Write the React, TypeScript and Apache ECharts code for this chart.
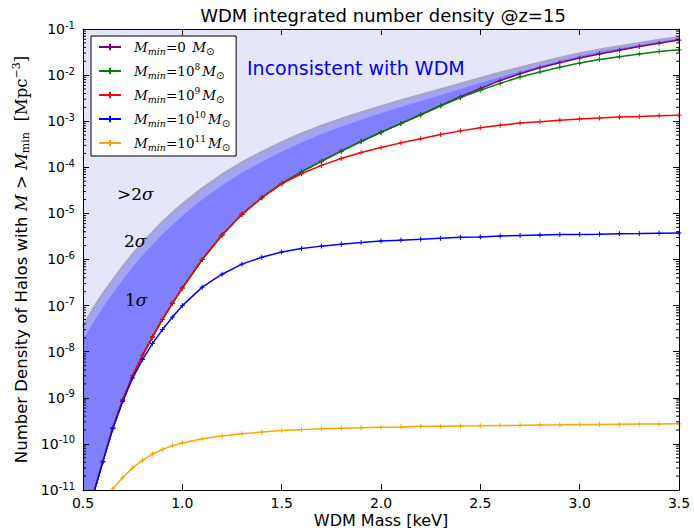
import React, { useEffect, useRef } from 'react';
import * as echarts from 'echarts';

// WDM particle mass [keV]
const wdmMass = [0.5, 0.55, 0.6, 0.65, 0.7, 0.75, 0.8, 0.85, 0.9, 0.95, 1.0, 1.1, 1.2, 1.3, 1.4, 1.5, 1.6, 1.7, 1.8, 1.9, 2.0, 2.1, 2.2, 2.3, 2.4, 2.5, 2.6, 2.7, 2.8, 2.9, 3.0, 3.1, 3.2, 3.3, 3.4, 3.5];

// Integrated number density [Mpc^-3] for each M_min
const nMmin0 = [1.26e-12, 7.59e-12, 4.17e-11, 2.24e-10, 8.91e-10, 3.02e-9, 8.32e-9, 2.09e-8, 5.01e-8, 1.12e-7, 2.4e-7, 1.0e-6, 3.39e-6, 9.55e-6, 2.19e-5, 4.47e-5, 7.94e-5, 1.35e-4, 2.24e-4, 3.63e-4, 5.75e-4, 8.91e-4, 1.38e-3, 2.19e-3, 3.39e-3, 5.13e-3, 7.59e-3, 1.07e-2, 1.45e-2, 1.86e-2, 2.34e-2, 2.88e-2, 3.47e-2, 4.17e-2, 4.9e-2, 5.75e-2];
const nMmin1e8 = [1.26e-12, 7.59e-12, 4.17e-11, 2.24e-10, 8.91e-10, 3.02e-9, 8.32e-9, 2.09e-8, 5.01e-8, 1.12e-7, 2.4e-7, 1.0e-6, 3.39e-6, 9.55e-6, 2.19e-5, 4.47e-5, 7.94e-5, 1.35e-4, 2.24e-4, 3.63e-4, 5.75e-4, 8.91e-4, 1.38e-3, 2.14e-3, 3.24e-3, 4.68e-3, 6.61e-3, 9.12e-3, 1.17e-2, 1.48e-2, 1.82e-2, 2.19e-2, 2.51e-2, 2.88e-2, 3.24e-2, 3.55e-2];
const nMmin1e9 = [1.26e-12, 7.59e-12, 4.17e-11, 2.24e-10, 8.91e-10, 3.02e-9, 8.32e-9, 2.09e-8, 5.01e-8, 1.12e-7, 2.4e-7, 1.0e-6, 3.39e-6, 9.55e-6, 2.19e-5, 4.37e-5, 7.24e-5, 1.1e-4, 1.55e-4, 2.09e-4, 2.69e-4, 3.39e-4, 4.17e-4, 5.13e-4, 6.17e-4, 7.24e-4, 8.13e-4, 9.12e-4, 9.77e-4, 1.05e-3, 1.12e-3, 1.17e-3, 1.23e-3, 1.26e-3, 1.32e-3, 1.35e-3];
const nMmin1e10 = [1.26e-12, 7.59e-12, 4.07e-11, 2.14e-10, 8.32e-10, 2.69e-9, 6.76e-9, 1.51e-8, 3.02e-8, 5.62e-8, 1.0e-7, 2.51e-7, 4.79e-7, 7.94e-7, 1.12e-6, 1.45e-6, 1.74e-6, 1.95e-6, 2.14e-6, 2.34e-6, 2.51e-6, 2.63e-6, 2.75e-6, 2.88e-6, 3.02e-6, 3.09e-6, 3.24e-6, 3.31e-6, 3.39e-6, 3.47e-6, 3.5e-6, 3.55e-6, 3.63e-6, 3.65e-6, 3.72e-6, 3.75e-6];
const nMmin1e11 = [null, null, 3.16e-12, 1.05e-11, 1.86e-11, 3.02e-11, 4.47e-11, 6.03e-11, 7.59e-11, 9.12e-11, 1.05e-10, 1.29e-10, 1.48e-10, 1.66e-10, 1.82e-10, 1.95e-10, 2.04e-10, 2.14e-10, 2.19e-10, 2.24e-10, 2.29e-10, 2.34e-10, 2.4e-10, 2.42e-10, 2.45e-10, 2.47e-10, 2.51e-10, 2.53e-10, 2.57e-10, 2.59e-10, 2.63e-10, 2.64e-10, 2.66e-10, 2.69e-10, 2.7e-10, 2.72e-10];

// Upper edges of the constraint bands
const upper2Sigma = [3.55e-8, 8.32e-8, 1.78e-7, 3.55e-7, 6.92e-7, 1.29e-6, 2.29e-6, 3.89e-6, 6.46e-6, 1.02e-5, 1.58e-5, 3.47e-5, 6.92e-5, 1.26e-4, 2.14e-4, 3.47e-4, 5.37e-4, 7.94e-4, 1.12e-3, 1.55e-3, 2.09e-3, 2.82e-3, 3.72e-3, 4.9e-3, 6.46e-3, 8.51e-3, 1.12e-2, 1.45e-2, 1.86e-2, 2.34e-2, 2.95e-2, 3.55e-2, 4.17e-2, 4.9e-2, 5.75e-2, 6.61e-2];
const upper1Sigma = [1.78e-8, 4.17e-8, 9.12e-8, 1.82e-7, 3.63e-7, 6.76e-7, 1.23e-6, 2.09e-6, 3.55e-6, 5.62e-6, 8.91e-6, 2.0e-5, 4.07e-5, 7.59e-5, 1.32e-4, 2.19e-4, 3.47e-4, 5.25e-4, 7.59e-4, 1.07e-3, 1.48e-3, 2.04e-3, 2.75e-3, 3.72e-3, 5.01e-3, 6.76e-3, 9.12e-3, 1.2e-2, 1.58e-2, 2.04e-2, 2.63e-2, 3.24e-2, 3.8e-2, 4.57e-2, 5.37e-2, 6.31e-2];

// Legend entries (exponent of M_min) and axis ticks
const legendExponents = ['0', '8', '9', '10', '11'];
const seriesNames = ['Mmin=0', 'Mmin=1e8', 'Mmin=1e9', 'Mmin=1e10', 'Mmin=1e11'];
const seriesColors = ['#800080', '#008000', '#ff0000', '#0000ff', '#ffa500'];
const yTickExponents = [-11, -10, -9, -8, -7, -6, -5, -4, -3, -2, -1];
const minorMantissas = [2, 3, 4, 5, 6, 7, 8, 9];

const X_MIN = 0.5;
const X_MAX = 3.5;
const Y_MIN = 1e-11;
const Y_MAX = 0.09999;

const PLUS = 'path://M0,5L10,5M5,0L5,10';
const SERIF = 'DejaVu Serif';
const SANS = 'DejaVu Sans';

const minorTickValues: number[] = [];
yTickExponents.slice(0, -1).forEach((e) => {
  minorMantissas.forEach((m) => minorTickValues.push(m * Math.pow(10, e)));
});

const toPairs = (vals: (number | null)[]) =>
  wdmMass.map((x, i) => [x, vals[i]]).filter((p) => p[1] != null);

const legendText = (i: number) => {
  const e = legendExponents[i];
  if (e === '0') return '{i0|M}{s|min}{r|=0 }{i|M}{o|⊙}';
  return '{i0|M}{s|min}{r|=10}{p|' + e + '}{i|M}{o|⊙}';
};

const sigmaRich = {
  r: { fontFamily: SERIF, fontSize: 17, fill: '#000' },
  g: { fontFamily: SERIF, fontStyle: 'italic', fontSize: 17, fill: '#000' },
};

export default function App() {
  const ref = useRef<HTMLDivElement>(null);
  useEffect(() => {
    if (!ref.current) return;
    const chart = echarts.init(ref.current, undefined, { renderer: 'svg' });
    const curveData = [nMmin0, nMmin1e8, nMmin1e9, nMmin1e10, nMmin1e11];
    const curves = curveData.map((vals, i) => ({
      type: 'line',
      name: seriesNames[i],
      data: toPairs(vals),
      z: 3,
      symbol: PLUS,
      symbolSize: 5,
      showSymbol: true,
      showAllSymbol: true,
      lineStyle: { color: seriesColors[i], width: 1.5 },
      itemStyle: { color: seriesColors[i], borderColor: seriesColors[i], borderWidth: 1 },
    }));

    const axisLineStyle = { show: true, onZero: false, lineStyle: { color: '#000', width: 1 } };
    const tickStyle = { show: true, inside: true, length: 6, lineStyle: { color: '#000' } };

    const option: any = {
      animation: false,
      backgroundColor: '#fff',
      title: {
        text: 'WDM integrated number density @z=15',
        left: 383,
        top: 6,
        padding: 0,
        textAlign: 'center',
        textStyle: { fontFamily: SANS, fontSize: 18, fontWeight: 'normal', color: '#000' },
      },
      grid: {
        left: 83,
        top: 29,
        width: 596,
        height: 461,
        show: true,
        backgroundColor: '#e6e6fa',
        borderWidth: 0,
        containLabel: false,
        outerBoundsMode: 'none',
      },
      legend: {
        data: seriesNames,
        orient: 'vertical',
        left: 91,
        top: 36,
        itemWidth: 22,
        itemHeight: 8,
        itemGap: 6,
        padding: [2, 6, 4, 7],
        borderColor: '#000',
        borderWidth: 1,
        backgroundColor: '#fff',
        selectedMode: false,
        z: 20,
        formatter: (name: string) => legendText(seriesNames.indexOf(name)),
        textStyle: {
          color: '#000',
          fontSize: 13.5,
          lineHeight: 18,
          rich: {
            i0: { fontFamily: SERIF, fontStyle: 'italic', fontSize: 13.5, lineHeight: 18, color: '#000', padding: [0, 0, 0, 8] },
            i: { fontFamily: SERIF, fontStyle: 'italic', fontSize: 13.5, lineHeight: 18, color: '#000', padding: [0, 0, 0, 2] },
            s: { fontFamily: SERIF, fontStyle: 'italic', fontSize: 9.5, lineHeight: 10, verticalAlign: 'bottom', color: '#000' },
            r: { fontFamily: SERIF, fontSize: 13.5, lineHeight: 18, color: '#000' },
            p: { fontFamily: SERIF, fontSize: 9, lineHeight: 9, verticalAlign: 'top', color: '#000' },
            o: { fontFamily: SANS, fontSize: 10, lineHeight: 10, verticalAlign: 'bottom', color: '#000' },
          },
        },
      },
      xAxis: [
        {
          type: 'value',
          min: X_MIN,
          max: X_MAX,
          interval: 0.5,
          position: 'bottom',
          z: 10,
          axisLine: axisLineStyle,
          axisTick: tickStyle,
          axisLabel: {
            formatter: (v: number) => v.toFixed(1),
            color: '#000',
            fontSize: 14,
            fontFamily: SANS,
            margin: 6,
          },
          splitLine: { show: false },
          name: 'WDM Mass [keV]',
          nameLocation: 'middle',
          nameGap: 21,
          nameMoveOverlap: false,
          nameTextStyle: { fontFamily: SANS, fontSize: 16, color: '#000', lineHeight: 18 },
        },
        {
          type: 'value',
          min: X_MIN,
          max: X_MAX,
          interval: 0.5,
          position: 'top',
          z: 10,
          axisLine: axisLineStyle,
          axisTick: tickStyle,
          axisLabel: { show: false },
          splitLine: { show: false },
        },
      ],
      yAxis: [
        {
          type: 'log',
          logBase: 10,
          min: Y_MIN,
          max: Y_MAX,
          splitNumber: 10,
          position: 'left',
          z: 10,
          axisLine: axisLineStyle,
          axisTick: tickStyle,
          axisLabel: {
            margin: 8,
            showMinLabel: true,
            showMaxLabel: true,
            hideOverlap: false,
            formatter: (v: number) => '{b|10}{e|' + String(Math.round(Math.log10(v))) + '}',
            rich: {
              b: { fontFamily: SANS, fontSize: 14, lineHeight: 18, color: '#000' },
              e: { fontFamily: SANS, fontSize: 10, lineHeight: 10, verticalAlign: 'top', color: '#000' },
            },
          },
          splitLine: { show: false },
          name:
            '{t|Number Density of Halos with }{m|M}{r| > }{m|M}{rs|min}{r|  [Mpc}{sp|−3}{r|]}',
          nameLocation: 'middle',
          nameGap: 52,
          nameMoveOverlap: false,
          nameTextStyle: {
            color: '#000',
            rich: {
              t: { fontFamily: SANS, fontSize: 16.5, lineHeight: 20, color: '#000' },
              m: { fontFamily: SERIF, fontStyle: 'italic', fontSize: 16.5, lineHeight: 20, color: '#000' },
              r: { fontFamily: SERIF, fontSize: 16.5, lineHeight: 20, color: '#000' },
              rs: { fontFamily: SERIF, fontSize: 11, lineHeight: 11, verticalAlign: 'bottom', color: '#000' },
              sp: { fontFamily: SERIF, fontSize: 11, lineHeight: 10, verticalAlign: 'top', color: '#000' },
            },
          },
        },
        {
          type: 'log',
          logBase: 10,
          min: Y_MIN,
          max: Y_MAX,
          splitNumber: 10,
          position: 'right',
          z: 10,
          axisLine: axisLineStyle,
          axisTick: tickStyle,
          axisLabel: { show: false },
          splitLine: { show: false },
        },
      ],
      series: [
        {
          type: 'line',
          name: 'band2sigma',
          data: toPairs(upper2Sigma),
          z: 1,
          showSymbol: false,
          silent: true,
          lineStyle: { color: '#a6a6c6', width: 2.5 },
          areaStyle: { color: '#a4a4f4', opacity: 1, origin: 'start' },
        },
        {
          type: 'line',
          name: 'band1sigma',
          data: toPairs(upper1Sigma),
          z: 1,
          showSymbol: false,
          silent: true,
          lineStyle: { width: 0, color: '#8080ff' },
          areaStyle: { color: '#8080ff', opacity: 1, origin: 'start' },
        },
        {
          type: 'line',
          name: 'belowTotal',
          data: toPairs(nMmin0),
          z: 1,
          showSymbol: false,
          silent: true,
          lineStyle: { width: 0, color: '#ffffff' },
          areaStyle: { color: '#ffffff', opacity: 1, origin: 'start' },
        },
        ...curves,
        {
          type: 'custom',
          name: 'minorTicks',
          silent: true,
          z: 11,
          clip: false,
          data: [[X_MIN, 1e-6]],
          renderItem: (_params: any, api: any) => {
            const children: any[] = [];
            minorTickValues.forEach((v) => {
              const pl = api.coord([X_MIN, v]);
              const pr = api.coord([X_MAX, v]);
              children.push({
                type: 'line',
                shape: { x1: pl[0], y1: pl[1], x2: pl[0] + 3, y2: pl[1] },
                style: { stroke: '#000', lineWidth: 1 },
              });
              children.push({
                type: 'line',
                shape: { x1: pr[0], y1: pr[1], x2: pr[0] - 3, y2: pr[1] },
                style: { stroke: '#000', lineWidth: 1 },
              });
            });
            return { type: 'group', children };
          },
        },
      ],
      graphic: [
        {
          type: 'text',
          x: 247,
          y: 68,
          z: 100,
          style: { text: 'Inconsistent with WDM', fill: '#0000ff', font: '19px "DejaVu Sans"', verticalAlign: 'middle' },
        },
        {
          type: 'text',
          x: 117,
          y: 194,
          z: 100,
          style: { text: '{r|>2}{g|σ}', verticalAlign: 'middle', rich: sigmaRich },
        },
        {
          type: 'text',
          x: 124,
          y: 241,
          z: 100,
          style: { text: '{r|2}{g|σ}', verticalAlign: 'middle', rich: sigmaRich },
        },
        {
          type: 'text',
          x: 125,
          y: 300,
          z: 100,
          style: { text: '{r|1}{g|σ}', verticalAlign: 'middle', rich: sigmaRich },
        },
      ],
    };
    chart.setOption(option);
    return () => chart.dispose();
  }, []);
  return <div ref={ref} style={{ width: 694, height: 528, position: 'absolute', left: 0, top: 0 }} />;
}
